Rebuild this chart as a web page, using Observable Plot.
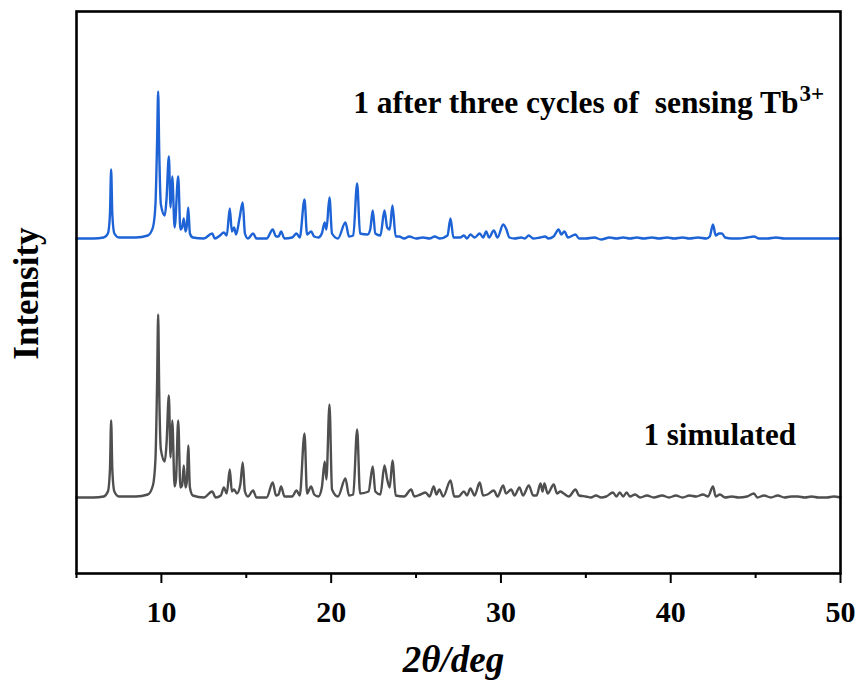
<!DOCTYPE html>
<html>
<head>
<meta charset="utf-8">
<script src="https://cdn.jsdelivr.net/npm/d3@7"></script>
<script src="https://cdn.jsdelivr.net/npm/@observablehq/plot@0.6"></script>
<style>
  body { margin: 0; background: #fff; }
  #chart svg { display: block; }
  #chart svg text { font-family: 'Liberation Serif', 'Times New Roman', serif; }
</style>
</head>
<body>
<div id="chart"></div>
<script>
// PXRD patterns: simulated vs. after three sensing cycles (arbitrary intensity units)

const seriesNames = ["1 simulated", "1 after three cycles of  sensing Tb"];
const seriesColors = ["#4f4f4f", "#1d63d6"];
const seriesOffsets = [0, 260];

const simTheta = [
  5.0, 6.0, 6.6, 6.85, 6.97, 7.04, 7.11, 7.23, 7.5, 8.5, 9.2, 9.5, 9.65, 9.75, 9.81, 9.87, 9.97,
  10.2, 10.3, 10.44, 10.54, 10.64, 10.78, 10.86, 10.99, 11.12, 11.22, 11.32, 11.42, 11.5, 11.58, 11.68, 11.85,
  12.5, 12.99, 13.2, 13.5, 13.68, 13.85, 14.03, 14.15, 14.28, 14.45, 14.65, 14.79, 14.92, 15.1, 15.4, 15.6,
  16.2, 16.56, 16.75, 16.9, 17.05, 17.25, 17.7, 17.96, 18.15, 18.43, 18.58, 18.82, 19.0, 19.25, 19.45,
  19.62, 19.72, 19.9, 20.05, 20.4, 20.84, 21.05, 21.3, 21.53, 21.7, 22.2, 22.45, 22.6, 22.9, 23.14, 23.3,
  23.45, 23.61, 23.8, 24.3, 24.71, 24.9, 25.26, 25.56, 25.8, 26.04, 26.2, 26.37, 26.6, 27.03, 27.25, 27.5,
  27.82, 28.0, 28.2, 28.45, 28.75, 28.95, 29.2, 29.58, 29.8, 30.13, 30.3, 30.6, 30.8, 31.09, 31.3, 31.64,
  31.9, 32.1, 32.33, 32.45, 32.56, 32.75, 33.11, 33.3, 33.5, 33.7, 34.0, 34.39, 34.6, 35.0, 35.3, 35.6,
  35.9, 36.2, 36.6, 36.8, 37.0, 37.2, 37.4, 37.6, 37.9, 38.2, 38.6, 39.0, 39.5, 39.9, 40.3, 40.7, 41.1,
  41.5, 41.9, 42.2, 42.49, 42.65, 42.9, 43.2, 43.6, 44.0, 44.5, 44.9, 45.1, 45.5, 45.9, 46.3, 46.7, 47.1,
  47.5, 47.9, 48.3, 48.7, 49.2, 49.6, 50.0
];
const simIntensity = [
  2, 2, 3, 8, 30, 79, 30, 8, 3, 3, 5, 14, 40, 120, 185, 110, 50,
  38, 55, 104, 42, 79, 13, 20, 79, 12, 14, 34, 12, 18, 54, 12, 4,
  2, 8, 2, 4, 12, 6, 30, 8, 10, 6, 15, 37, 8, 3, 9, 2,
  2, 17, 4, 5, 13, 3, 3, 9, 4, 66, 6, 13, 5, 3, 12,
  38, 20, 95, 10, 3, 21, 4, 5, 70, 6, 8, 33, 8, 5, 34, 20,
  12, 39, 4, 3, 10, 3, 5, 7, 3, 13, 5, 10, 3, 19, 3, 3,
  8, 4, 11, 4, 17, 4, 5, 9, 3, 14, 6, 10, 4, 12, 4, 14,
  4, 4, 16, 8, 16, 6, 15, 6, 8, 6, 3, 10, 4, 3, 2, 4,
  2, 3, 7, 3, 7, 3, 7, 3, 5, 2, 4, 2, 4, 2, 4, 2, 4,
  3, 5, 3, 13, 3, 5, 2, 3, 2, 3, 6, 2, 4, 2, 4, 2, 3,
  3, 2, 3, 2, 2, 3, 2
];

const cycTheta = [
  5.0, 6.0, 6.6, 6.85, 6.97, 7.04, 7.11, 7.23, 7.5, 8.5, 9.2, 9.5, 9.65, 9.75, 9.81, 9.87, 9.97,
  10.2, 10.3, 10.44, 10.54, 10.64, 10.78, 10.99, 11.12, 11.22, 11.32, 11.42, 11.5, 11.58, 11.68, 11.85,
  12.5, 12.99, 13.15, 13.45, 13.68, 13.85, 14.03, 14.15, 14.28, 14.4, 14.6, 14.79, 14.92, 15.1, 15.4, 15.6,
  16.2, 16.56, 16.75, 16.9, 17.05, 17.25, 17.7, 17.96, 18.15, 18.43, 18.58, 18.82, 19.0, 19.25, 19.45,
  19.62, 19.72, 19.9, 20.05, 20.4, 20.84, 21.05, 21.3, 21.53, 21.7, 22.15, 22.3, 22.45, 22.6, 22.9, 23.14,
  23.3, 23.45, 23.61, 23.8, 24.0, 24.3, 24.6, 25.0, 25.4, 25.8, 26.1, 26.4, 26.85, 27.03, 27.2, 27.6,
  27.82, 28.0, 28.2, 28.45, 28.75, 28.95, 29.13, 29.3, 29.58, 29.8, 30.13, 30.3, 30.5, 30.8, 31.2, 31.4,
  31.64, 31.9, 32.3, 32.6, 32.8, 33.1, 33.4, 33.55, 33.74, 33.95, 34.39, 34.6, 35.0, 35.5, 35.9, 36.4,
  36.8, 37.2, 37.6, 38.0, 38.4, 38.9, 39.3, 39.8, 40.2, 40.7, 41.1, 41.6, 42.1, 42.3, 42.49, 42.65, 42.85,
  43.02, 43.2, 43.6, 44.0, 44.5, 44.9, 45.2, 45.7, 46.2, 46.7, 47.2, 47.8, 48.3, 48.8, 49.4, 50.0
];
const cycIntensity = [
  1, 1, 2, 6, 25, 70, 25, 6, 2, 2, 4, 12, 35, 100, 148, 90, 35,
  24, 40, 83, 32, 63, 12, 63, 10, 12, 21, 8, 14, 32, 6, 2,
  1, 6, 1, 4, 7, 4, 31, 8, 12, 5, 21, 37, 6, 1, 6, 1,
  1, 10, 3, 3, 8, 1, 2, 6, 2, 40, 5, 8, 3, 2, 6,
  17, 10, 42, 6, 1, 17, 3, 4, 56, 6, 5, 10, 29, 6, 4, 29,
  12, 10, 34, 3, 3, 1, 3, 1, 2, 1, 3, 1, 4, 21, 2, 2,
  4, 1, 5, 2, 6, 2, 8, 2, 9, 2, 15, 11, 2, 1, 2, 1,
  4, 1, 2, 3, 1, 3, 10, 5, 8, 2, 5, 1, 1, 2, 0, 2,
  1, 2, 1, 2, 1, 2, 1, 2, 1, 2, 1, 2, 1, 3, 15, 4, 6,
  6, 2, 1, 1, 2, 3, 1, 1, 2, 1, 1, 1, 1, 1, 1, 1
];

const majorTicks = [10, 20, 30, 40, 50];
const minorTicks = [5, 15, 25, 35, 45];

// long-format table for the line mark
const thetas = [simTheta, cycTheta];
const intensities = [simIntensity, cycIntensity];
const patterns = seriesNames.flatMap((name, i) =>
  thetas[i].map((t, j) => ({series: name, theta: t, value: intensities[i][j] + seriesOffsets[i]}))
);

const serif = "'Liberation Serif', 'Times New Roman', serif";

const chart = Plot.plot({
  width: 860,
  height: 684,
  marginLeft: 76,
  marginRight: 20,
  marginTop: 11,
  marginBottom: 111,
  style: {fontFamily: serif, background: "#fff", color: "#000"},
  x: {domain: [5, 50]},
  y: {domain: [-74, 488], axis: null},
  color: {domain: seriesNames, range: seriesColors},
  marks: [
    Plot.line(patterns, {
      x: "theta", y: "value", z: "series", stroke: "series",
      strokeWidth: 2.4, curve: "monotone-x"
    }),
    Plot.axisX(majorTicks, {
      tickSize: 10, tickPadding: 17, strokeWidth: 2, fontSize: 30, fontWeight: "bold",
      fontFamily: serif, label: null
    }),
    Plot.axisX(minorTicks, {
      tickSize: 5, strokeWidth: 2, tickFormat: () => "", label: null
    }),
    Plot.frame({stroke: "#000", strokeWidth: 2.6}),
    Plot.text([seriesNames[1]], {
      x: 21.3, y: 397, text: (d) => d, textAnchor: "start",
      fontSize: 31.5, fontWeight: "bold", fill: "#000", fontFamily: serif
    }),
    Plot.text([seriesNames[0]], {
      x: 38.4, y: 64, text: (d) => d, textAnchor: "start",
      fontSize: 31, fontWeight: "bold", fill: "#000", fontFamily: serif
    }),
    Plot.text(["Intensity"], {
      frameAnchor: "left", textAnchor: "middle", lineAnchor: "middle",
      text: (d) => d, rotate: -90, dx: -50, dy: 1,
      fontSize: 35, fontWeight: "bold", fill: "#000", fontFamily: serif
    }),
    Plot.text(["2θ/deg"], {
      frameAnchor: "bottom", text: (d) => d, dx: -5, dy: 98,
      fontSize: 37, fontWeight: "bold", fontStyle: "italic", fill: "#000", fontFamily: serif
    })
  ]
});

// superscript charge on the terbium ion
d3.select(chart).selectAll("text")
  .filter(function () { return this.textContent === seriesNames[1]; })
  .append("tspan")
  .attr("dx", "1")
  .attr("dy", "-0.5em")
  .attr("font-size", "23")
  .text("3+");

document.getElementById("chart").append(chart);
</script>
</body>
</html>
